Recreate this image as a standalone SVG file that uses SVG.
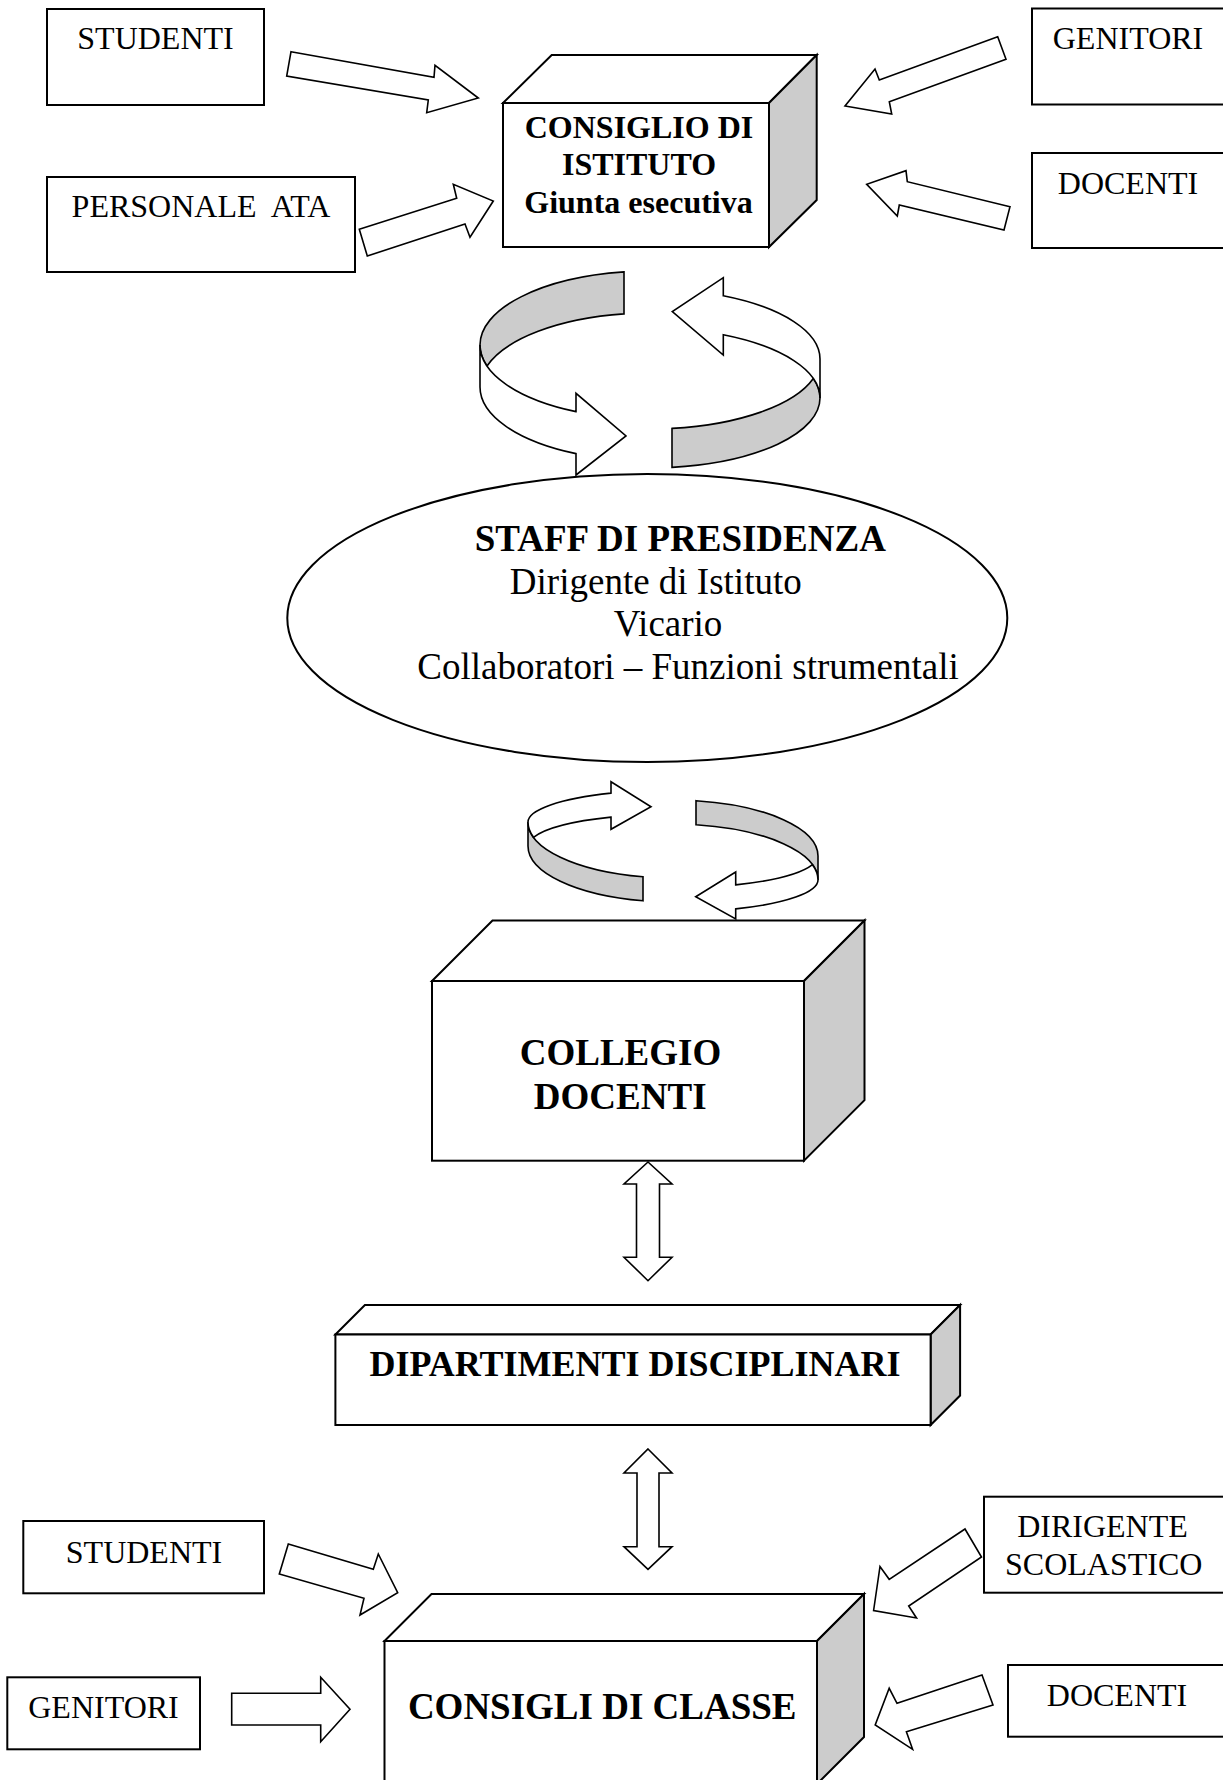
<svg xmlns="http://www.w3.org/2000/svg" width="1223" height="1780" viewBox="0 0 1223 1780">
<style>
.box{fill:#fff;stroke:#000;stroke-width:2}
.side{fill:#cccccc;stroke:#000;stroke-width:2;stroke-linejoin:miter}
.top{fill:#fff;stroke:#000;stroke-width:2;stroke-linejoin:miter}
.lbl{font-family:"Liberation Serif","Times New Roman",serif;font-size:32px;fill:#000;text-anchor:middle}
.bold{font-family:"Liberation Serif","Times New Roman",serif;font-weight:bold;fill:#000;text-anchor:middle}
.reg{font-family:"Liberation Serif","Times New Roman",serif;font-size:37px;fill:#000;text-anchor:middle}
.arr{fill:#fff;stroke:#000;stroke-width:1.6;stroke-linejoin:miter}
.rib{fill:#cccccc;stroke:#000;stroke-width:1.6;stroke-linejoin:miter}
</style>
<rect x="0" y="0" width="1223" height="1780" fill="#fff"/>

<g id="studenti-top">
<rect class="box" x="47" y="9" width="217" height="96"/>
<text class="lbl" x="155.5" y="49">STUDENTI</text>
</g>
<g id="personale-ata">
<rect class="box" x="47" y="177" width="308" height="95"/>
<text class="lbl" x="201" y="217" xml:space="preserve">PERSONALE  ATA</text>
</g>
<g id="genitori-top">
<rect class="box" x="1032" y="8.5" width="200" height="96"/>
<text class="lbl" x="1128" y="49">GENITORI</text>
</g>
<g id="docenti-top">
<rect class="box" x="1032" y="153" width="200" height="95"/>
<text class="lbl" x="1128" y="194">DOCENTI</text>
</g>
<g id="consiglio-istituto">
<polygon class="top" points="503,103 551.7,55 816.7,55 769,103"/>
<polygon class="side" points="769,103 816.7,55 816.7,200 769,247"/>
<rect class="box" x="503" y="103" width="266" height="144"/>
<text class="bold" font-size="32" x="639" y="138">CONSIGLIO DI</text>
<text class="bold" font-size="32" x="639" y="175">ISTITUTO</text>
<text class="bold" font-size="32" x="638.5" y="213">Giunta esecutiva</text>
</g>
<g id="staff-presidenza">
<ellipse cx="647.3" cy="618" rx="360" ry="144" fill="#fff" stroke="#000" stroke-width="2"/>
<text class="bold" font-size="37" x="680.3" y="550.7">STAFF DI PRESIDENZA</text>
<text class="reg" x="655.8" y="594">Dirigente di Istituto</text>
<text class="reg" x="668" y="636">Vicario</text>
<text class="reg" x="688" y="679">Collaboratori – Funzioni strumentali</text>
</g>
<g id="collegio-docenti">
<polygon class="top" points="432,981 492.5,920.5 864.5,920.5 804,981"/>
<polygon class="side" points="804,981 864.5,920.5 864.5,1100.2 804,1160.7"/>
<rect class="box" x="432" y="981" width="372" height="179.7"/>
<text class="bold" font-size="37" x="620.5" y="1065">COLLEGIO</text>
<text class="bold" font-size="37" x="620.2" y="1108.7">DOCENTI</text>
</g>
<g id="dipartimenti">
<polygon class="top" points="335.4,1334.5 364.9,1305 960.1,1305 930.6,1334.5"/>
<polygon class="side" points="930.6,1334.5 960.1,1305 960.1,1395.5 930.6,1425"/>
<rect class="box" x="335.4" y="1334.5" width="595.2" height="90.5"/>
<text class="bold" font-size="36" x="635" y="1376">DIPARTIMENTI DISCIPLINARI</text>
</g>
<g id="studenti-bottom">
<rect class="box" x="23.3" y="1521" width="240.7" height="72.3"/>
<text class="lbl" x="144" y="1562.7">STUDENTI</text>
</g>
<g id="genitori-bottom">
<rect class="box" x="7.3" y="1677.3" width="192.7" height="72"/>
<text class="lbl" x="103.5" y="1718.3">GENITORI</text>
</g>
<g id="dirigente-scolastico">
<rect class="box" x="984" y="1496.7" width="250" height="96"/>
<text class="lbl" x="1102.5" y="1536.7">DIRIGENTE</text>
<text class="lbl" x="1103.7" y="1575">SCOLASTICO</text>
</g>
<g id="docenti-bottom">
<rect class="box" x="1008" y="1665" width="230" height="71.7"/>
<text class="lbl" x="1117" y="1706">DOCENTI</text>
</g>
<g id="consigli-classe">
<polygon class="top" points="384.5,1641 431.5,1594 864,1594 817,1641"/>
<polygon class="side" points="817,1641 864,1594 864,1737 817,1784"/>
<rect class="box" x="384.5" y="1641" width="432.5" height="150"/>
<text class="bold" font-size="37" x="602.2" y="1719.3">CONSIGLI DI CLASSE</text>
</g>

<g id="connectors">
<polygon class="arr" points="291,51.7 434,77.3 435,65.3 478.3,98 426.7,112.7 428.3,100 286.7,76"/>
<polygon class="arr" points="359.3,229.3 456.7,198.3 453.3,184.3 493.3,201 470,237.3 465,224 367.3,256"/>
<polygon class="arr" points="997.7,36.7 879.3,80 875,69 845,106 891.7,114 889.3,101.7 1006,59.3"/>
<polygon class="arr" points="1010,206.7 907.3,181.7 906,170.7 866.7,184.3 897.3,216 899.3,205 1004,230"/>

<path class="rib" d="M624,271.9 A170 74 0 0 0 480,345 A170 74 0 0 0 487,366 A170 74 0 0 1 624,313.9 Z"/>
<path class="arr" d="M480,345 L480,387 A170 74 0 0 0 576,453.6 L576,475 L626,436 L576,393.3 L576,411.6 A170 74 0 0 1 480,345 Z"/>
<path class="rib" d="M672,467.4 A170 70 0 0 0 820,398 A170 70 0 0 0 813.3,378.5 A170 70 0 0 1 672,428.4 Z"/>
<path class="arr" d="M820,398 L820,359 A170 70 0 0 0 723.3,295.8 L723.3,277.7 L672.3,311.7 L723.3,355 L723.3,334.8 A170 70 0 0 1 820,398 Z"/>

<path class="rib" d="M528,822 A145 56 0 0 0 643,876.8 L643,900.8 A145 56 0 0 1 528,846 Z"/>
<path class="arr" d="M611,793.1 A145 32 0 0 0 528,822 A145 56 0 0 0 533.5,837.3 A145 32 0 0 1 611,817.1 L611,829.3 L651,806.7 L611,781.7 Z"/>
<path class="rib" d="M818,880 A145 56 0 0 0 696,824.7 L696,800.7 A145 56 0 0 1 818,856 Z"/>
<path class="arr" d="M735.7,908.9 A145 32 0 0 0 818,880 A145 56 0 0 0 812.5,864.7 A145 32 0 0 1 735.7,884.9 L735.7,872 L695.7,896.7 L735.7,919 Z"/>

<polygon class="arr" points="648,1162 672,1184 659.5,1184 659.5,1257.3 672,1257.3 648,1280.7 624,1257.3 636.5,1257.3 636.5,1184 624,1184"/>
<polygon class="arr" points="648,1449 672,1473 659,1473 659,1546.7 672,1546.7 648,1569.3 624,1546.7 637,1546.7 637,1473 624,1473"/>

<polygon class="arr" points="288.3,1544 373.3,1569.3 378.3,1554 397.7,1592.7 360,1615 364,1598.3 279.3,1574"/>
<polygon class="arr" points="231.7,1693.3 320.7,1693.3 320.7,1677.3 350,1709.3 320.7,1741.7 320.7,1725 231.7,1725"/>
<polygon class="arr" points="965,1529 889.2,1579.3 880,1566.5 873.6,1610.5 916.5,1618 908.7,1606 981.5,1557"/>
<polygon class="arr" points="982,1675 897,1703.3 889.2,1688.3 875.2,1725 912.6,1749.3 906.4,1731.7 993,1705"/>
</g>
</svg>
